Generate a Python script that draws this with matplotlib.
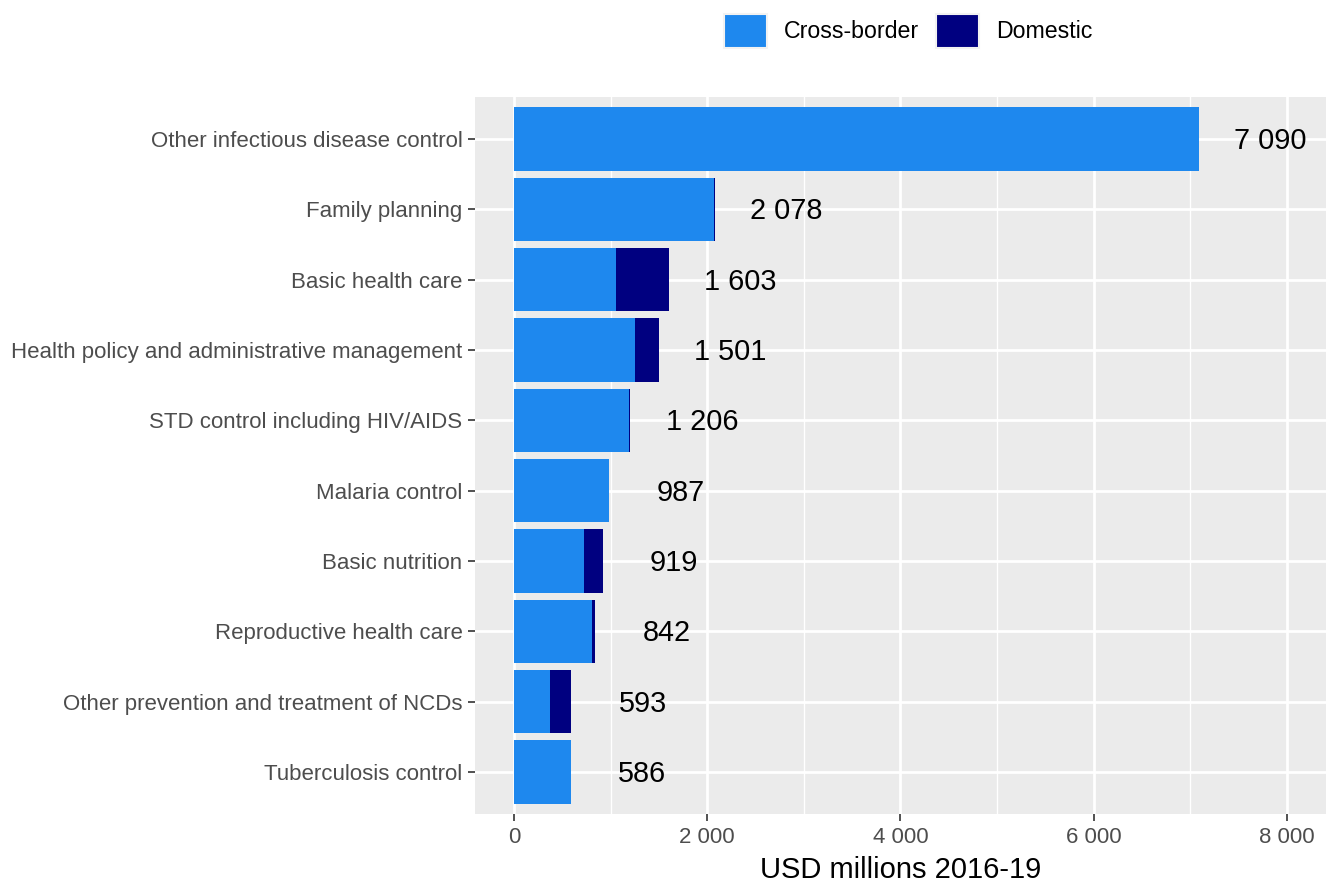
import matplotlib
matplotlib.use("Agg")
import matplotlib.pyplot as plt
from matplotlib.patches import Patch
import numpy as np

plt.rcParams['font.family'] = ['Liberation Sans', 'DejaVu Sans']

categories = [
    "Other infectious disease control",
    "Family planning",
    "Basic health care",
    "Health policy and administrative management",
    "STD control including HIV/AIDS",
    "Malaria control",
    "Basic nutrition",
    "Reproductive health care",
    "Other prevention and treatment of NCDs",
    "Tuberculosis control",
]
cross_border = [7090, 2068, 1055, 1251, 1186, 987, 725, 812, 374, 586]
domestic = [0, 10, 548, 250, 20, 0, 194, 30, 219, 0]
totals = [7090, 2078, 1603, 1501, 1206, 987, 919, 842, 593, 586]
total_labels = ["7 090", "2 078", "1 603", "1 501", "1 206", "987", "919", "842", "593", "586"]
x_ticks = [0, 2000, 4000, 6000, 8000]
x_tick_labels = ["0", "2 000", "4 000", "6 000", "8 000"]
x_minor = [1000, 3000, 5000, 7000]

c_cross = "#1E88EE"
c_dom = "#000080"

fig = plt.figure(figsize=(13.3, 8.88), dpi=100)
ax = fig.add_axes([475/1330, (888-814.3)/888, (1325.7-475)/1330, (814.3-96.7)/888])
ax.set_facecolor("#EBEBEB")

y = np.arange(len(categories))
ax.barh(y, cross_border, height=0.9, color=c_cross, zorder=3)
ax.barh(y, domestic, left=cross_border, height=0.9, color=c_dom, zorder=3)

for yi, t, lab in zip(y, totals, total_labels):
    ax.text(t + 740, yi + 0.03, lab, ha="center", va="center", fontsize=20.8, color="black", zorder=4)

ax.set_ylim(len(categories) - 0.4, -0.6)
ax.set_xlim(-404, 8404)
ax.set_yticks(y)
ax.set_yticklabels(categories, fontsize=16, color="#4D4D4D")
ax.set_xticks(x_ticks)
ax.set_xticklabels(x_tick_labels, fontsize=16, color="#4D4D4D")
ax.set_xticks(x_minor, minor=True)
ax.tick_params(axis="both", which="major", length=5, width=1.2, color="#333333", pad=4)
ax.tick_params(axis="x", which="minor", length=0)
ax.grid(True, which="major", color="white", linewidth=2, zorder=0)
ax.grid(True, which="minor", axis="x", color="white", linewidth=1, zorder=0)
ax.set_axisbelow(True)
for s in ax.spines.values():
    s.set_visible(False)

ax.set_xlabel("USD millions 2016-19", fontsize=21, color="black", labelpad=6)

handles = [Patch(facecolor=c_cross, edgecolor="#F2F2F2", linewidth=1.5, label="Cross-border"),
           Patch(facecolor=c_dom, edgecolor="#F2F2F2", linewidth=1.5, label="Domestic")]
fig.legend(handles=handles, loc="center", bbox_to_anchor=(908/1330, 1 - 31/888), ncol=2,
           frameon=False, fontsize=16.7, handlelength=1.85, handleheight=1.85,
           handletextpad=0.73, columnspacing=0.73)

fig.savefig("out.png", dpi=100)
